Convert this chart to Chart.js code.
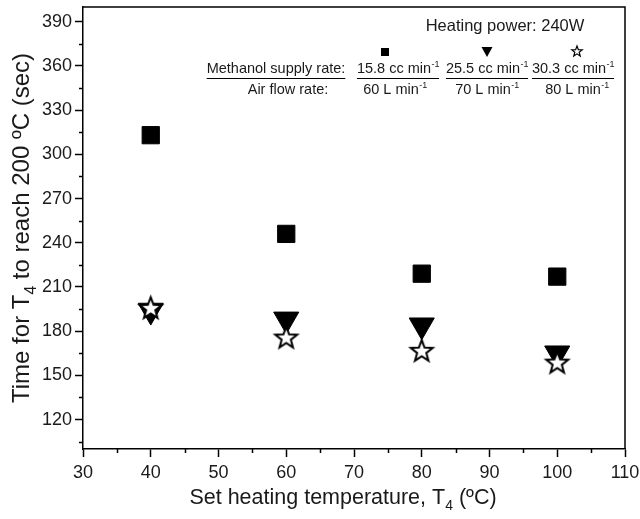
<!DOCTYPE html>
<html lang="en">
<head>
    <meta charset="UTF-8">
    <title>Time for T4 to reach 200 ºC</title>
    <script src="https://cdn.jsdelivr.net/npm/chart.js"></script>
    <style>
        body {
            margin: 0;
            background-color: white;
        }
        .chart-container {
            position: relative;
            width: 640px;
            height: 519px;
        }
    </style>
</head>
<body>
    <div class="chart-container">
        <canvas id="timeChart"></canvas>
    </div>

    <script>
        // Data
        const temps = [40, 60, 80, 100];
        const squareTimes = [313, 246, 219, 217];     // 15.8 cc/min, 60 L/min
        const triangleTimes = [194, 188, 184, 165];   // 25.5 cc/min, 70 L/min
        const starTimes = [196, 176, 167, 159];       // 30.3 cc/min, 80 L/min

        const yTickValues = [120, 150, 180, 210, 240, 270, 300, 330, 360, 390];
        const yMinorValues = [105, 135, 165, 195, 225, 255, 285, 315, 345, 375];
        const xMinorValues = [35, 45, 55, 65, 75, 85, 95, 105];

        const headerText = 'Heating power: 240W';
        const methanolLabel = 'Methanol supply rate:';
        const airLabel = 'Air flow rate:';
        const methanolRates = ['15.8 cc min', '25.5 cc min', '30.3 cc min'];
        const airRates = ['60 L min', '70 L min', '80 L min'];

        const FONT = '"Liberation Sans", Arial, sans-serif';
        const TEXT = '#1a1a1a';

        // 5-point star used as point style (white fill, black outline)
        function makeStar(R, lw) {
            const size = Math.ceil(2 * R + lw * 2 + 2);
            const c = document.createElement('canvas');
            c.width = size;
            c.height = size;
            const g = c.getContext('2d');
            const cx = size / 2, cy = size / 2 + R * 0.1;
            const r = R * 0.42;
            g.beginPath();
            for (let i = 0; i < 10; i++) {
                const rad = i % 2 === 0 ? R : r;
                const a = -Math.PI / 2 + i * Math.PI / 5;
                const px = cx + rad * Math.cos(a);
                const py = cy + rad * Math.sin(a);
                if (i === 0) g.moveTo(px, py); else g.lineTo(px, py);
            }
            g.closePath();
            g.fillStyle = 'white';
            g.fill();
            g.lineWidth = lw;
            g.lineJoin = 'miter';
            g.strokeStyle = 'black';
            g.stroke();
            return c;
        }

        const bigStar = makeStar(11.5, 2);
        const smallStar = makeStar(5.5, 1.2);

        function textWithSup(ctx, base, sup, cx, y, size) {
            ctx.font = size + 'px ' + FONT;
            const wb = ctx.measureText(base).width;
            ctx.font = (size * 0.62) + 'px ' + FONT;
            const ws = ctx.measureText(sup).width;
            const x0 = cx - (wb + ws) / 2;
            ctx.textAlign = 'left';
            ctx.font = size + 'px ' + FONT;
            ctx.fillText(base, x0, y);
            ctx.font = (size * 0.62) + 'px ' + FONT;
            ctx.fillText(sup, x0 + wb + 0.5, y - size * 0.38);
            return { left: x0, right: x0 + wb + ws };
        }

        function textWithSub(ctx, parts, x, y, size) {
            // parts: [text, subscript, text] drawn centered at x
            ctx.font = size + 'px ' + FONT;
            const w0 = ctx.measureText(parts[0]).width;
            const w2 = ctx.measureText(parts[2]).width;
            ctx.font = (size * 0.65) + 'px ' + FONT;
            const w1 = ctx.measureText(parts[1]).width;
            let x0 = x - (w0 + w1 + w2) / 2;
            ctx.textAlign = 'left';
            ctx.font = size + 'px ' + FONT;
            ctx.fillText(parts[0], x0, y);
            ctx.font = (size * 0.65) + 'px ' + FONT;
            ctx.fillText(parts[1], x0 + w0, y + size * 0.28);
            ctx.font = size + 'px ' + FONT;
            ctx.fillText(parts[2], x0 + w0 + w1, y);
        }

        const decorPlugin = {
            id: 'decor',
            afterDraw(chart) {
                const ctx = chart.ctx;
                const area = chart.chartArea;
                const xs = chart.scales.x;
                const ys = chart.scales.y;
                ctx.save();

                // top and right frame
                ctx.strokeStyle = 'black';
                ctx.lineWidth = 1.5;
                ctx.beginPath();
                ctx.moveTo(area.left, area.top);
                ctx.lineTo(area.right, area.top);
                ctx.lineTo(area.right, area.bottom);
                ctx.stroke();

                // minor ticks
                ctx.lineWidth = 1.5;
                ctx.beginPath();
                yMinorValues.forEach(v => {
                    const py = Math.round(ys.getPixelForValue(v)) + 0.5;
                    ctx.moveTo(area.left - 4, py);
                    ctx.lineTo(area.left, py);
                });
                xMinorValues.forEach(v => {
                    const px = Math.round(xs.getPixelForValue(v)) + 0.5;
                    ctx.moveTo(px, area.bottom);
                    ctx.lineTo(px, area.bottom + 4);
                });
                ctx.stroke();

                // axis titles
                ctx.fillStyle = TEXT;
                ctx.textBaseline = 'alphabetic';
                textWithSub(ctx, ['Set heating temperature, T', '4', ' (ºC)'], 343, 504, 21.5);
                ctx.save();
                ctx.translate(29, 228);
                ctx.rotate(-Math.PI / 2);
                textWithSub(ctx, ['Time for T', '4', ' to reach 200 ºC (sec)'], 0, 0, 24);
                ctx.restore();

                // annotation block
                ctx.textAlign = 'center';
                ctx.font = '16.5px ' + FONT;
                ctx.fillText(headerText, 505, 31);

                // symbols
                const symX = [385, 487, 577];
                ctx.fillStyle = 'black';
                ctx.fillRect(symX[0] - 4, 48, 8, 8);
                ctx.beginPath();
                ctx.moveTo(symX[1] - 5.5, 47);
                ctx.lineTo(symX[1] + 5.5, 47);
                ctx.lineTo(symX[1], 57);
                ctx.closePath();
                ctx.fill();
                ctx.drawImage(smallStar, symX[2] - smallStar.width / 2, 51 - smallStar.height / 2);

                ctx.fillStyle = TEXT;
                ctx.font = '14.5px ' + FONT;
                ctx.textAlign = 'center';
                ctx.fillText(methanolLabel, 276, 73);
                ctx.fillText(airLabel, 288, 94);
                const labelW = ctx.measureText(methanolLabel).width;

                ctx.strokeStyle = 'black';
                ctx.lineWidth = 1;
                ctx.beginPath();
                ctx.moveTo(276 - labelW / 2, 78.5);
                ctx.lineTo(276 + labelW / 2, 78.5);

                const topX = [398, 487, 573];
                const botX = [395, 487, 577];
                methanolRates.forEach((t, i) => {
                    const ext = textWithSup(ctx, t, '-1', topX[i], 73, 14.5);
                    ctx.moveTo(ext.left, 78.5);
                    ctx.lineTo(ext.right, 78.5);
                });
                ctx.stroke();
                airRates.forEach((t, i) => {
                    textWithSup(ctx, t, '-1', botX[i], 94, 14.5);
                });

                ctx.restore();
            }
        };

        const ctx = document.getElementById('timeChart').getContext('2d');
        const chart = new Chart(ctx, {
            type: 'scatter',
            data: {
                datasets: [
                    {
                        label: '30.3 cc/min, 80 L/min',
                        data: temps.map((t, i) => ({ x: t, y: starTimes[i] })),
                        pointStyle: bigStar,
                        pointRadius: 12
                    },
                    {
                        label: '25.5 cc/min, 70 L/min',
                        data: temps.map((t, i) => ({ x: t, y: triangleTimes[i] })),
                        pointStyle: 'triangle',
                        pointRotation: 180,
                        pointRadius: 14.5,
                        backgroundColor: 'black',
                        borderColor: 'black',
                        borderWidth: 1
                    },
                    {
                        label: '15.8 cc/min, 60 L/min',
                        data: temps.map((t, i) => ({ x: t, y: squareTimes[i] })),
                        pointStyle: 'rect',
                        pointRadius: 12.2,
                        backgroundColor: 'black',
                        borderColor: 'black',
                        borderWidth: 1
                    }
                ]
            },
            options: {
                responsive: true,
                maintainAspectRatio: false,
                animation: false,
                events: [],
                layout: {
                    autoPadding: false,
                    padding: { left: 0, top: 7, right: 15, bottom: 0 }
                },
                plugins: {
                    legend: { display: false },
                    tooltip: { enabled: false }
                },
                scales: {
                    x: {
                        type: 'linear',
                        min: 30,
                        max: 110,
                        ticks: {
                            stepSize: 10,
                            color: TEXT,
                            padding: 5,
                            maxRotation: 0,
                            font: { family: FONT, size: 18 }
                        },
                        grid: {
                            drawOnChartArea: false,
                            tickLength: 8,
                            tickColor: 'black',
                            tickWidth: 1.5
                        },
                        border: { color: 'black', width: 1.5 },
                        afterFit(scale) {
                            scale.height = 70;
                            scale.paddingLeft = 0;
                            scale.paddingRight = 0;
                        }
                    },
                    y: {
                        type: 'linear',
                        min: 100,
                        max: 400,
                        afterBuildTicks(scale) {
                            scale.ticks = yTickValues.map(v => ({ value: v }));
                        },
                        ticks: {
                            color: TEXT,
                            padding: 3,
                            font: { family: FONT, size: 18 }
                        },
                        grid: {
                            drawOnChartArea: false,
                            tickLength: 8,
                            tickColor: 'black',
                            tickWidth: 1.5
                        },
                        border: { color: 'black', width: 1.5 },
                        afterFit(scale) {
                            scale.width = 83;
                            scale.paddingTop = 0;
                            scale.paddingBottom = 0;
                        }
                    }
                }
            },
            plugins: [decorPlugin]
        });
    </script>
</body>
</html>
